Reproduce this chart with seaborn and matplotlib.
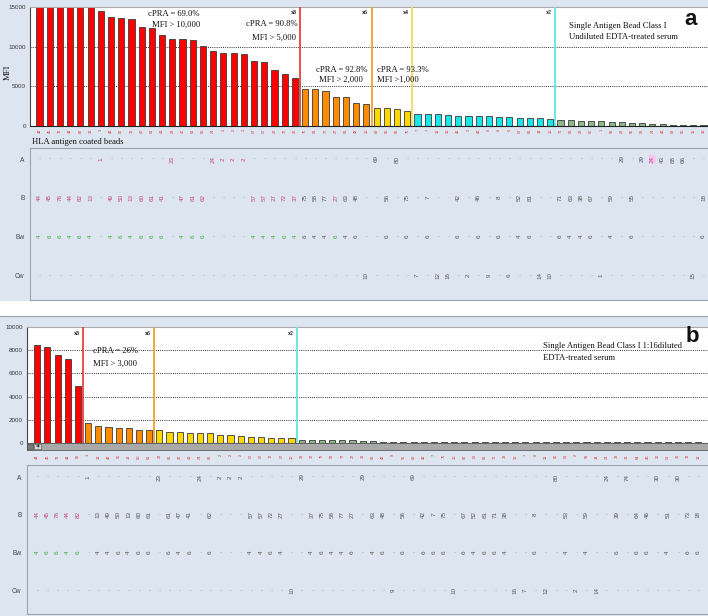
import numpy as np
import pandas as pd
import matplotlib.pyplot as plt
from matplotlib.patches import Rectangle
from matplotlib.lines import Line2D
import seaborn as sns

sns.set_style('white')
plt.rcParams['font.family'] = ['Liberation Sans', 'DejaVu Sans']
SERIF = 'Liberation Serif'

W, H = 708, 616
BG = '#dde6f0'
BAR_COLORS = {'red': '#ff0000', 'orange': '#ff8c00', 'yellow': '#ffd800',
              'cyan': '#19e6e6', 'green': '#8db88a'}
LINE_COLORS = {'red': '#e8413c', 'orange': '#f5a030', 'yellow': '#f7dc5a',
               'cyan': '#5ce6e6'}
PINK = '#c8407f'
GREEN = '#3aa63a'
GRAY = '#555555'

# ---------------- panel a : undiluted serum ----------------
a_mfi = [15000, 15000, 15000, 15000, 15000, 15000, 14450, 13800, 13600, 13450,
         12500, 12300, 11450, 11000, 11000, 10900, 10050, 9400, 9150, 9150,
         9050, 8150, 8050, 7000, 6500, 6100,
         4650, 4650, 4450, 3650, 3650, 2880, 2750,
         2330, 2330, 2200, 1900,
         1530, 1530, 1480, 1400, 1310, 1310, 1230, 1230, 1140, 1140,
         1020, 1020, 1020, 890,
         720, 720, 590, 590, 590, 550, 470, 340, 340, 210, 210, 130, 130, 90, 90]
a_group_names = ['red', 'orange', 'yellow', 'cyan', 'green']
a_group_sizes = [26, 7, 4, 14, 15]
a_cut_colors = ['red', 'orange', 'yellow', 'cyan']
a_cut_labels = ['x8', 'x6', 'x4', 'x2']

a_row_A = ('. . . . . . 1 . . . . . . 23 . . . 24 2 2 2 . . . . . . . . . . . '
           '. 69 . 80 . . . . . . . . . . . . . . . . . . . . . 29 . 29 24 43 68 66 . .')
a_row_B = ('44 45 76 44 82 13 . 49 50 13 60 61 41 . 47 61 62 . . . . 57 57 27 72 37 75 58 77 27 63 48 '
           '. . 56 . 75 . 7 . . 42 . 46 . 8 . 52 81 . . 71 63 38 67 . 59 . 55 . . . . . . 18')
a_row_Bw = ('4 6 6 4 6 4 . 4 6 4 6 6 6 . 4 6 6 . . . . 4 4 4 6 4 6 4 4 6 4 6 '
            '. . 6 . 6 . 6 . . 6 . 6 . 6 . 4 6 . . 6 4 4 6 . 4 . 6 . . . . . . 6')
a_row_Cw = ('. . . . . . . . . . . . . . . . . . . . . . . . . . . . . . . . '
            '10 . . . . 7 . 12 16 . 2 . 9 . 6 . . 14 10 . . . . 1 . . . . . . . . 15 .')
a_extra_hilite = {'A': [60], 'B': [29], 'Bw': [29]}

# ---------------- panel b : 1:16 diluted serum ----------------
b_mfi = [8450, 8300, 7600, 7250, 4880,
         1710, 1460, 1370, 1310, 1290, 1110, 1110,
         1090, 940, 940, 890, 890, 890, 710, 660, 600, 510, 510, 460, 460, 430,
         290, 290, 230, 230, 230, 230, 200, 180, 120, 120, 100, 100, 90, 90,
         80, 80, 75, 75, 70, 70, 70, 70, 65, 65, 65, 65, 65, 65, 60, 60,
         60, 60, 60, 60, 60, 60, 60, 60, 60, 60]
b_group_names = ['red', 'orange', 'yellow', 'green']
b_group_sizes = [5, 7, 14, 40]
b_cut_colors = ['red', 'orange', 'cyan']
b_cut_labels = ['x8', 'x6', 'x2']

b_row_A = ('. . . . . 1 . . . . . . 23 . . . 24 . 2 2 2 . . . . . 29 . . . . . '
           '29 . . . . 69 . . . . . . . . . . . . . 80 . . . . 24 . 74 . . 30 . 30 . .')
b_row_B = ('44 45 76 44 82 . 13 49 50 13 60 61 . 61 47 41 . 62 . . . 57 57 72 27 . . 37 75 58 77 27 '
           '. 63 48 . 56 . 42 7 75 . 67 52 81 71 38 . . 8 . . 53 . 59 . . 39 . 64 46 . 51 . 73 18')
b_row_Bw = ('4 6 6 4 6 . 4 4 6 4 6 6 . 6 4 6 . 6 . . . 4 4 6 4 . . 4 6 4 4 6 '
            '. 4 6 . 6 . 6 6 6 . 6 4 6 6 4 . . 6 . . 4 . 4 . . 6 . 6 6 . 4 . 6 6')
b_row_Cw = ('. . . . . . . . . . . . . . . . . . . . . . . . . 10 . . . . . . '
            '. . . 9 . . . . . 10 . . . . . 16 7 . 12 . . 2 . 14 . . . . . . . . . .')
b_extra_hilite = {'A': [], 'B': [], 'Bw': []}

row_names = ['A', 'B', 'Bw', 'Cw']


def frame(l, t, r, b):
    return [l / W, 1 - b / H, (r - l) / W, (b - t) / H]


def ftext(x, y, s, **kw):
    kw.setdefault('va', 'center')
    fig.text(x / W, 1 - y / H, s, **kw)


def tick_names(rows):
    # bead label: first antigen number found in the column
    cols = [r.split() for r in rows]
    out = []
    for c in range(len(cols[0])):
        lab = next((cols[k][c] for k in (1, 0, 3) if cols[k][c] != '.'), '1')
        out.append(lab)
    return out


def draw_bars(ax, mfi, groups, xlim, ymax, step, cut_after, cut_colors, cut_labels, label_y):
    df = pd.DataFrame({'bead': range(len(mfi)), 'mfi': mfi, 'group': groups})
    sns.barplot(data=df, x='bead', y='mfi', hue='group', palette=BAR_COLORS,
                dodge=False, width=0.6, saturation=1, edgecolor='#3a3a3a',
                linewidth=0.6, legend=False, ax=ax, zorder=2)
    ax.set_facecolor('white')
    ax.set_xlim(*xlim)
    ax.set_ylim(0, ymax)
    ticks = np.arange(0, ymax + 1, step)
    ax.set_yticks(ticks)
    ax.set_yticklabels([f'{int(t)}' for t in ticks], fontsize=4.5, color='#333')
    for t in ticks[1:-1]:
        ax.axhline(t, color='#333', lw=0.7, ls=(0, (1, 1.2)), zorder=1)
    ax.set_xlabel('')
    ax.set_ylabel('')
    ax.spines['right'].set_visible(False)
    ax.spines['top'].set_color('#aaaaaa')
    ax.spines['left'].set_color('#444')
    ax.spines['bottom'].set_color('#222')
    ax.tick_params(axis='y', length=2, width=0.5, pad=1, color='#444')
    for idx, col, lab in zip(cut_after, cut_colors, cut_labels):
        ax.axvline(idx + 0.5, color=LINE_COLORS[col], lw=1.3, zorder=3)
        ax.text(idx + 0.2, label_y, lab, transform=ax.get_xaxis_transform(),
                ha='right', va='center', fontsize=4.2, family=SERIF,
                weight='bold', color='#222')


def draw_table(ax, rows, hilite_cols, extra, xlim, ylim, label_pad):
    ax.set_facecolor(BG)
    ax.set_xlim(*xlim)
    ax.set_ylim(*ylim)
    ax.set_xticks([])
    ax.set_yticks(range(len(row_names)))
    ax.set_yticklabels(row_names, fontsize=4.8, color='#444')
    ax.tick_params(axis='y', length=0, pad=label_pad)
    for s in ax.spines.values():
        s.set_color('#9aa4ae')
        s.set_linewidth(0.8)
    ax.spines['right'].set_visible(False)
    for r, (name, row) in enumerate(zip(row_names, rows)):
        for c, tok in enumerate(row.split()):
            if tok == '.':
                ax.text(c, r, '·', ha='center', va='center', fontsize=4.5, color='#666')
                continue
            color = GRAY
            lit = c in hilite_cols or c in extra.get(name, [])
            if lit and name in ('A', 'B'):
                color = PINK
            elif lit and name == 'Bw':
                color = GREEN
            box = None
            if name == 'A' and c in extra.get('A', []):
                box = dict(boxstyle='square,pad=0.15', fc='#f2c8ee', ec='none')
            ax.text(c, r, tok, rotation=90, ha='center', va='center',
                    fontsize=4.5, color=color, bbox=box)


fig = plt.figure(figsize=(W / 100, H / 100), dpi=100, facecolor=BG)

# white gap between the two screenshots
fig.patches.append(Rectangle((0, 1 - 316 / H), 1, 15 / H, transform=fig.transFigure,
                             facecolor='white', edgecolor='none', zorder=-1))
fig.add_artist(Line2D([0, 1], [1 - 316 / H] * 2, color='#9aa4ae', lw=0.8))

# ---- panel a
a_groups = np.repeat(a_group_names, a_group_sizes)
a_cuts = list(np.cumsum(a_group_sizes)[:-1] - 1)
a_xlim = (-0.93, 65.44)
ax_a = fig.add_axes(frame(30, 7, 708, 126))
draw_bars(ax_a, a_mfi, a_groups, a_xlim, 15000, 5000, a_cuts, a_cut_colors,
          a_cut_labels, 0.955)
a_rows = [a_row_A, a_row_B, a_row_Bw, a_row_Cw]
ax_a.set_xticks(range(len(a_mfi)))
ax_a.set_xticklabels(tick_names(a_rows), rotation=90, fontsize=2.8, color='#e03030')
ax_a.tick_params(axis='x', length=1.2, width=0.4, pad=0.8, color='#222')

tab_a = fig.add_axes(frame(30, 148, 708, 300))
a_red = set(range(a_group_sizes[0]))
draw_table(tab_a, a_rows, a_red, a_extra_hilite, a_xlim, (3.64, -0.284), 4)

# ---- panel b
b_groups = np.repeat(b_group_names, b_group_sizes)
b_cuts = list(np.cumsum(b_group_sizes)[:-1] - 1)
b_xlim = (-1.01, 65.95)
ax_b = fig.add_axes(frame(27, 327, 708, 443))
draw_bars(ax_b, b_mfi, b_groups, b_xlim, 10000, 2000, b_cuts, b_cut_colors,
          b_cut_labels, 0.948)
ax_b.set_xticks([])

b_rows = [b_row_A, b_row_B, b_row_Bw, b_row_Cw]
scroll = fig.add_axes(frame(27, 443, 708, 450))
scroll.set_facecolor('#a9a9a9')
scroll.set_xlim(*b_xlim)
scroll.set_ylim(0, 1)
scroll.set_yticks([])
scroll.set_xticks(range(len(b_mfi)))
scroll.set_xticklabels(tick_names(b_rows), rotation=90, fontsize=2.8, color='#e03030')
scroll.tick_params(axis='x', length=1.5, width=0.5, pad=1.5, color='#111')
for s in scroll.spines.values():
    s.set_color('#555')
    s.set_linewidth(0.6)
scroll.add_patch(Rectangle((0.0, 0.1), 0.009, 0.8, transform=scroll.transAxes,
                           facecolor='#7a7a7a', edgecolor='#444', lw=0.4))
scroll.add_patch(Rectangle((0.011, 0.1), 0.009, 0.8, transform=scroll.transAxes,
                           facecolor='#d4d4d4', edgecolor='#555', lw=0.4))
scroll.text(0.0155, 0.5, '◀', transform=scroll.transAxes, ha='center', va='center',
            fontsize=3, color='#222', family='DejaVu Sans')

tab_b = fig.add_axes(frame(27, 465, 708, 614))
b_red = set(range(b_group_sizes[0]))
draw_table(tab_b, b_rows, b_red, b_extra_hilite, b_xlim, (3.63, -0.318), 4)

# ---- annotations
st = dict(family=SERIF, fontsize=6.2, color='#111')
ftext(174, 13.5, 'cPRA = 69.0%', ha='center', **st)
ftext(176, 24.5, 'MFI > 10,000', ha='center', **st)
ftext(298, 23.5, 'cPRA = 90.8%', ha='right', **st)
ftext(296, 38, 'MFI > 5,000', ha='right', **st)
ftext(316, 69.5, 'cPRA = 92.8%', ha='left', **st)
ftext(319, 80, 'MFI > 2,000', ha='left', **st)
ftext(377, 69.5, 'cPRA = 93.3%', ha='left', **st)
ftext(377, 80, 'MFI >1,000', ha='left', **st)
ftext(569, 26, 'Single Antigen Bead Class I', ha='left', **st)
ftext(569, 37, 'Undiluted EDTA-treated serum', ha='left', **st)
ftext(691, 19.5, 'a', ha='center', fontsize=16, weight='bold', color='#111')
ftext(8, 72, 'MFI', ha='center', rotation=90, **st)
ftext(32, 142.5, 'HLA antigen coated beads', ha='left', **st)

ftext(93, 351, 'cPRA = 26%', ha='left', **st)
ftext(93, 364, 'MFI > 3,000', ha='left', **st)
ftext(543, 346, 'Single Antigen Bead Class I 1:16diluted', ha='left', **st)
ftext(543, 357.5, 'EDTA-treated serum', ha='left', **st)
ftext(692, 336, 'b', ha='center', fontsize=16, weight='bold', color='#111')

fig.savefig('out.png', dpi=100, facecolor=BG)
